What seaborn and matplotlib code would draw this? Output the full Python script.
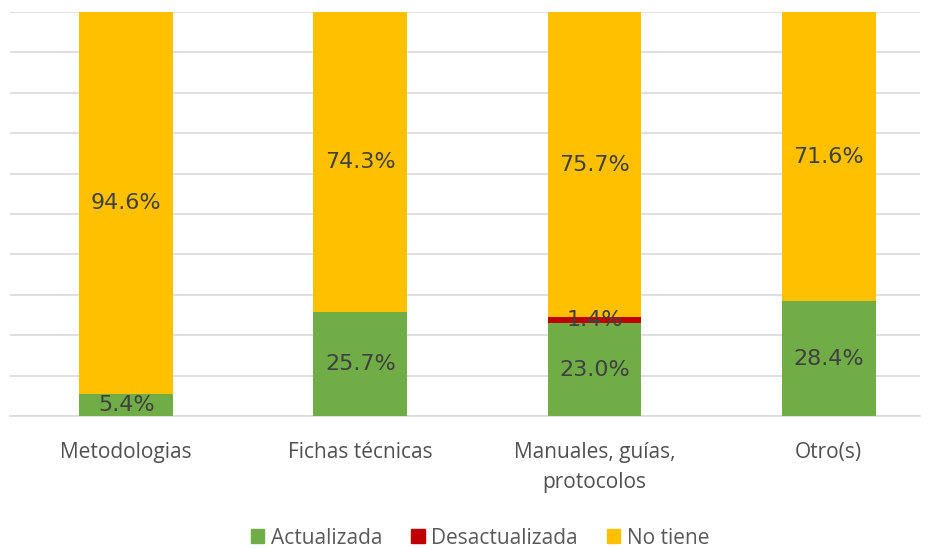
import numpy as np
import pandas as pd
import matplotlib
matplotlib.use("Agg")
import matplotlib.pyplot as plt
import seaborn as sns
from matplotlib.patches import Patch

categorias = ["Metodologias", "Fichas técnicas", "Manuales, guías,\nprotocolos", "Otro(s)"]
actualizada = [5.4, 25.7, 23.0, 28.4]
desactualizada = [0.0, 0.0, 1.4, 0.0]
no_tiene = [94.6, 74.3, 75.7, 71.6]

series = ["Actualizada", "Desactualizada", "No tiene"]
colores = ["#70AD47", "#C00000", "#FFC000"]

sns.set_style("white")
plt.rcParams['font.family'] = ['Open Sans', 'DejaVu Sans']

fig = plt.figure(figsize=(9.33, 5.48), dpi=100)
ax = fig.add_axes([10 / 933, 1 - 416 / 548, 910 / 933, 404 / 548])

df = pd.DataFrame({"cat": categorias, "Actualizada": actualizada,
                   "Desactualizada": desactualizada, "No tiene": no_tiene})

bottom = np.zeros(len(categorias))
for s, c in zip(series, colores):
    vals = df[s].values
    sns.barplot(x=df["cat"], y=vals, bottom=bottom, color=c, width=0.4,
                ax=ax, saturation=1, zorder=3, linewidth=0, edgecolor="none")
    for i, v in enumerate(vals):
        if v > 0:
            ax.text(i, bottom[i] + v / 2, f"{v:.1f}%", ha="center", va="center",
                    fontsize=16, color="#404040", family="DejaVu Sans", zorder=5)
    bottom = bottom + vals

ax.set_ylim(0, 100)
ax.set_xlim(-0.496, 3.39)
ax.set_yticks(np.arange(0, 101, 10))
ax.yaxis.grid(True, color="#D9D9D9", linewidth=1.2, zorder=0)
ax.set_yticklabels([])
ax.tick_params(axis="y", length=0)
ax.tick_params(axis="x", length=0, labelsize=15, labelcolor="#505050", pad=19)
for lab in ax.get_xticklabels():
    lab.set_linespacing(1.55)
ax.set_xlabel("")
ax.set_ylabel("")
for sp in ["top", "right", "left"]:
    ax.spines[sp].set_visible(False)
ax.spines["bottom"].set_color("#D9D9D9")
ax.spines["bottom"].set_linewidth(1.2)

handles = [Patch(color=c, label=s) for s, c in zip(series, colores)]
fig.legend(handles=handles, loc="center", bbox_to_anchor=(480 / 933, 1 - 538 / 548),
           ncol=3, frameon=False, fontsize=15, labelcolor="#595959",
           handlelength=0.65, handleheight=0.65, handletextpad=0.3, columnspacing=1.4,
           borderpad=0)

fig.savefig("out.png", dpi=100)
